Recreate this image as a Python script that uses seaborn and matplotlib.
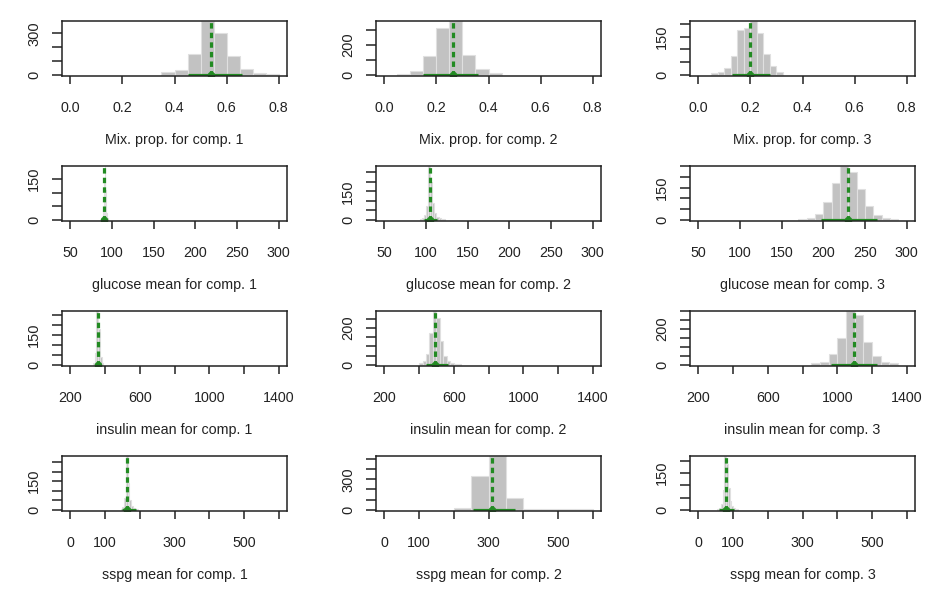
import numpy as np
import pandas as pd
import matplotlib
matplotlib.use("Agg")
import matplotlib.pyplot as plt
import seaborn as sns

sns.set_style("white")
plt.rcParams['font.family'] = ['Liberation Sans', 'DejaVu Sans']

# panel titles (row by row)
labels = ["Mix. prop. for comp. 1", "Mix. prop. for comp. 2", "Mix. prop. for comp. 3",
          "glucose mean for comp. 1", "glucose mean for comp. 2", "glucose mean for comp. 3",
          "insulin mean for comp. 1", "insulin mean for comp. 2", "insulin mean for comp. 3",
          "sspg mean for comp. 1", "sspg mean for comp. 2", "sspg mean for comp. 3"]

# histogram bins (start, width) and counts
bin_start = [0.35, 0.05, 0.05, 88, 92.5, 170, 330, 400, 850, 145, 200, 55]
bin_width = [0.05, 0.05, 0.025, 1, 2.5, 10, 10, 20, 50, 5, 50, 5]
counts = [
    [17, 31, 149, 390, 300, 132, 40, 12, 3],
    [5, 25, 126, 317, 363, 133, 37, 8],
    [5, 10, 25, 75, 175, 185, 212, 165, 80, 35, 10],
    [8, 40, 150, 199, 110, 25, 5],
    [3, 10, 25, 70, 284, 200, 90, 35, 15, 8, 4, 2],
    [5, 10, 25, 85, 170, 252, 222, 142, 65, 23, 10, 5],
    [10, 60, 269, 180, 40, 8],
    [8, 20, 57, 173, 293, 253, 129, 48, 20, 10, 6, 3],
    [10, 15, 62, 148, 302, 281, 130, 46, 15, 8],
    [5, 15, 60, 282, 140, 50, 20, 10, 5, 3],
    [14, 333, 530, 112, 10, 5, 4, 3],
    [3, 8, 25, 80, 221, 190, 90, 35, 15, 8, 4, 2],
]

# posterior mean and 95% interval
means = [0.54, 0.265, 0.2, 90.8, 105, 229, 358, 494, 1097, 164, 310, 80]
ci_low = [0.45, 0.15, 0.13, 89.5, 97.5, 197, 340, 438, 966, 150, 254, 60]
ci_high = [0.66, 0.36, 0.275, 92.5, 113, 264, 376, 566, 1227, 188, 375, 104]

# axes ticks per row
x_ticks = [[0, 0.2, 0.4, 0.6, 0.8],
           [50, 100, 150, 200, 250, 300],
           [200, 400, 600, 800, 1000, 1200, 1400],
           [0, 100, 200, 300, 400, 500, 600]]
x_ticklabels = [["0.0", "0.2", "0.4", "0.6", "0.8"],
                ["50", "100", "150", "200", "250", "300"],
                ["200", "", "600", "", "1000", "", "1400"],
                ["0", "100", "", "300", "", "500", ""]]
y_step = [100, 100, 50, 50, 50, 50, 50, 50, 50, 50, 100, 50]
y_shown = [[0, 300], [0, 200], [0, 150], [0, 150], [0, 150], [0, 150],
           [0, 150], [0, 200], [0, 200], [0, 150], [0, 300], [0, 150]]

W, H = 938, 589
fig = plt.figure(figsize=(W / 100, H / 100), dpi=100)
lefts = [62, 376, 690]
tops = [21, 166, 311, 456]
pw, ph = 225, 55
ink = "#222222"

for i in range(12):
    r, c = divmod(i, 3)
    ax = fig.add_axes([lefts[c] / W, 1 - (tops[r] + ph) / H, pw / W, ph / H])
    cnt = np.array(counts[i], dtype=float)
    edges = bin_start[i] + bin_width[i] * np.arange(len(cnt) + 1)
    df = pd.DataFrame({"x": (edges[:-1] + edges[1:]) / 2, "n": cnt})
    sns.histplot(data=df, x="x", weights="n", bins=list(edges), ax=ax,
                 color="#c2c2c2", edgecolor="#e0e0e0", linewidth=0.8, alpha=1)
    top = cnt.max()
    ax.set_ylim(-0.025 * top, top)
    lo, hi = x_ticks[r][0], x_ticks[r][-1]
    pad = 0.04 * (hi - lo)
    ax.set_xlim(lo - pad, hi + pad)
    ax.axvline(means[i], color="forestgreen", lw=2.3, ls=(0, (1.7, 1.3)))
    ax.plot([ci_low[i], ci_high[i]], [0, 0], color="forestgreen", lw=2.3,
            solid_capstyle="butt")
    ax.plot([means[i]], [0], "o", color="forestgreen", ms=4.5)

    ax.set_xticks(x_ticks[r])
    ax.set_xticklabels(x_ticklabels[r], fontsize=10.3, color=ink)
    yt = np.arange(0, top + 1, y_step[i])
    ax.set_yticks(yt)
    ax.set_yticklabels([str(int(v)) if v in y_shown[i] else "" for v in yt],
                       rotation=90, va="center", fontsize=10.5, color=ink)
    ax.tick_params(axis="x", direction="out", length=6, width=1.1, pad=12,
                   color=ink)
    ax.tick_params(axis="y", direction="out", length=7, width=1.1, pad=8,
                   color=ink)
    ax.tick_params(bottom=True, left=True)
    for s in ax.spines.values():
        s.set_visible(True)
        s.set_color(ink)
        s.set_linewidth(1.1)
    ax.set_xlabel(labels[i], fontsize=10.3, color=ink, labelpad=13)
    ax.set_ylabel("")

fig.savefig("out.png", dpi=100)
